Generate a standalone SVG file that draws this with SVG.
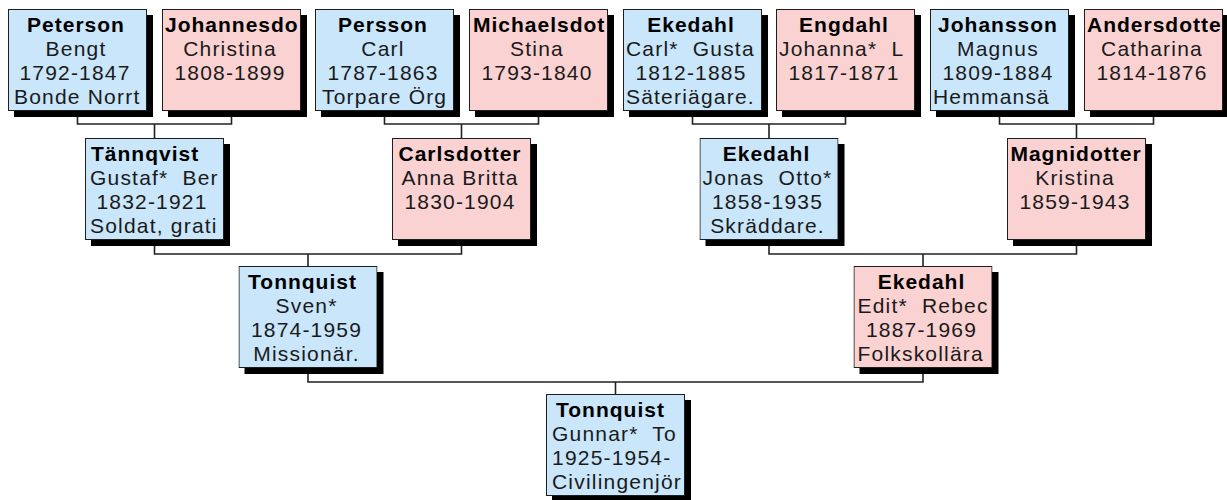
<svg xmlns="http://www.w3.org/2000/svg" width="1227" height="500" viewBox="0 0 1227 500">
<style>
.bg{fill:#ffffff}
.sh{fill:#000000}
.m{fill:#c9e6fa;stroke:#1e1e1e;stroke-width:1}
.f{fill:#fad2d2;stroke:#1e1e1e;stroke-width:1}
text{font-family:"Liberation Sans",Arial,sans-serif;font-size:21px;letter-spacing:1.2px;fill:#1a1a1a}
.n{font-weight:bold;fill:#000;letter-spacing:1px}
.c{text-anchor:middle}
.con{fill:none;stroke:#222;stroke-width:1.6}
</style>
<rect class="bg" x="0" y="0" width="1227" height="500"/>
<g id="connectors">
<path class="con" d="M77.5,111V124H231.5V111M154.5,124V138"/>
<path class="con" d="M384.5,111V124H538.5V111M461.5,124V138"/>
<path class="con" d="M692.5,111V124H845.5V111M769,124V138"/>
<path class="con" d="M999.5,111V124H1153.5V111M1076.5,124V138"/>
<path class="con" d="M154.5,240V254H461.5V240M308,254V266"/>
<path class="con" d="M769,240V254H1076.5V240M923,254V266"/>
<path class="con" d="M308,368V382H923V368M615.5,382V394"/>
</g>
<g id="p-peterson">
<rect class="sh" x="14" y="15" width="139" height="102"/>
<svg x="8" y="9" width="139" height="102"><rect class="m" x="0.5" y="0.5" width="138" height="101"/>
<text class="n c" x="68" y="23">Peterson</text><text class="c" x="68" y="47">Bengt</text><text class="c" x="67" y="71">1792-1847</text><text x="6" y="95">Bonde Norrt</text></svg>
</g>
<g id="p-johannesdotter">
<rect class="sh" x="168" y="15" width="139" height="102"/>
<svg x="162" y="9" width="139" height="102"><rect class="f" x="0.5" y="0.5" width="138" height="101"/>
<text class="n" x="3" y="23">Johannesdo</text><text class="c" x="68" y="47">Christina</text><text class="c" x="68" y="71">1808-1899</text></svg>
</g>
<g id="p-persson">
<rect class="sh" x="321" y="15" width="139" height="102"/>
<svg x="315" y="9" width="139" height="102"><rect class="m" x="0.5" y="0.5" width="138" height="101"/>
<text class="n c" x="68" y="23">Persson</text><text class="c" x="68" y="47">Carl</text><text class="c" x="68" y="71">1787-1863</text><text x="7" y="95">Torpare Örg</text></svg>
</g>
<g id="p-michaelsdotter">
<rect class="sh" x="475" y="15" width="139" height="102"/>
<svg x="469" y="9" width="139" height="102"><rect class="f" x="0.5" y="0.5" width="138" height="101"/>
<text class="n" x="4" y="23">Michaelsdot</text><text class="c" x="68" y="47">Stina</text><text class="c" x="68" y="71">1793-1840</text></svg>
</g>
<g id="p-ekedahl-carl">
<rect class="sh" x="629" y="15" width="139" height="102"/>
<svg x="623" y="9" width="139" height="102"><rect class="m" x="0.5" y="0.5" width="138" height="101"/>
<text class="n c" x="68" y="23">Ekedahl</text><text x="3" y="47" xml:space="preserve">Carl*  Gusta</text><text class="c" x="68" y="71">1812-1885</text><text x="3" y="95">Säteriägare.</text></svg>
</g>
<g id="p-engdahl">
<rect class="sh" x="782" y="15" width="139" height="102"/>
<svg x="776" y="9" width="139" height="102"><rect class="f" x="0.5" y="0.5" width="138" height="101"/>
<text class="n c" x="68" y="23">Engdahl</text><text x="3" y="47" xml:space="preserve">Johanna*  L</text><text class="c" x="68" y="71">1817-1871</text></svg>
</g>
<g id="p-johansson">
<rect class="sh" x="936" y="15" width="139" height="102"/>
<svg x="930" y="9" width="139" height="102"><rect class="m" x="0.5" y="0.5" width="138" height="101"/>
<text class="n c" x="68" y="23">Johansson</text><text class="c" x="68" y="47">Magnus</text><text class="c" x="68" y="71">1809-1884</text><text x="3" y="95">Hemmansä</text></svg>
</g>
<g id="p-andersdotter">
<rect class="sh" x="1090" y="15" width="139" height="102"/>
<svg x="1084" y="9" width="139" height="102"><rect class="f" x="0.5" y="0.5" width="138" height="101"/>
<text class="n" x="3" y="23">Andersdotte</text><text class="c" x="68" y="47">Catharina</text><text class="c" x="68" y="71">1814-1876</text></svg>
</g>
<g id="p-tannqvist">
<rect class="sh" x="91" y="144" width="139" height="102"/>
<svg x="85" y="138" width="139" height="102"><rect class="m" x="0.5" y="0.5" width="138" height="101"/>
<text class="n" x="6" y="23">Tännqvist</text><text x="5" y="47" xml:space="preserve">Gustaf*  Ber</text><text class="c" x="67" y="71">1832-1921</text><text x="5" y="95">Soldat, grati</text></svg>
</g>
<g id="p-carlsdotter">
<rect class="sh" x="398" y="144" width="139" height="102"/>
<svg x="392" y="138" width="139" height="102"><rect class="f" x="0.5" y="0.5" width="138" height="101"/>
<text class="n c" x="68" y="23">Carlsdotter</text><text class="c" x="68" y="47">Anna Britta</text><text class="c" x="68" y="71">1830-1904</text></svg>
</g>
<g id="p-ekedahl-jonas">
<rect class="sh" x="705.5" y="144" width="139" height="102"/>
<svg x="699.5" y="138" width="139" height="102"><rect class="m" x="0.5" y="0.5" width="138" height="101"/>
<text class="n c" x="67" y="23">Ekedahl</text><text class="c" x="68" y="47" xml:space="preserve">Jonas  Otto*</text><text class="c" x="68" y="71">1858-1935</text><text class="c" x="68" y="95">Skräddare.</text></svg>
</g>
<g id="p-magnidotter">
<rect class="sh" x="1013" y="144" width="139" height="102"/>
<svg x="1007" y="138" width="139" height="102"><rect class="f" x="0.5" y="0.5" width="138" height="101"/>
<text class="n c" x="69" y="23">Magnidotter</text><text class="c" x="68" y="47">Kristina</text><text class="c" x="68" y="71">1859-1943</text></svg>
</g>
<g id="p-tonnquist-sven">
<rect class="sh" x="244.5" y="272" width="139" height="102"/>
<svg x="238.5" y="266" width="139" height="102"><rect class="m" x="0.5" y="0.5" width="138" height="101"/>
<text class="n c" x="64" y="23">Tonnquist</text><text class="c" x="68" y="47">Sven*</text><text class="c" x="68" y="71">1874-1959</text><text class="c" x="68" y="95">Missionär.</text></svg>
</g>
<g id="p-ekedahl-edit">
<rect class="sh" x="859.5" y="272" width="139" height="102"/>
<svg x="853.5" y="266" width="139" height="102"><rect class="f" x="0.5" y="0.5" width="138" height="101"/>
<text class="n c" x="68" y="23">Ekedahl</text><text x="4" y="47" xml:space="preserve">Edit*  Rebec</text><text class="c" x="68" y="71">1887-1969</text><text x="4" y="95">Folkskollära</text></svg>
</g>
<g id="p-tonnquist-gunnar">
<rect class="sh" x="552" y="400" width="139" height="102"/>
<svg x="546" y="394" width="139" height="102"><rect class="m" x="0.5" y="0.5" width="138" height="101"/>
<text class="n" x="10" y="23">Tonnquist</text><text x="6" y="47" xml:space="preserve">Gunnar*  To</text><text x="6" y="71">1925-1954-</text><text x="6" y="95">Civilingenjör</text></svg>
</g>
</svg>
